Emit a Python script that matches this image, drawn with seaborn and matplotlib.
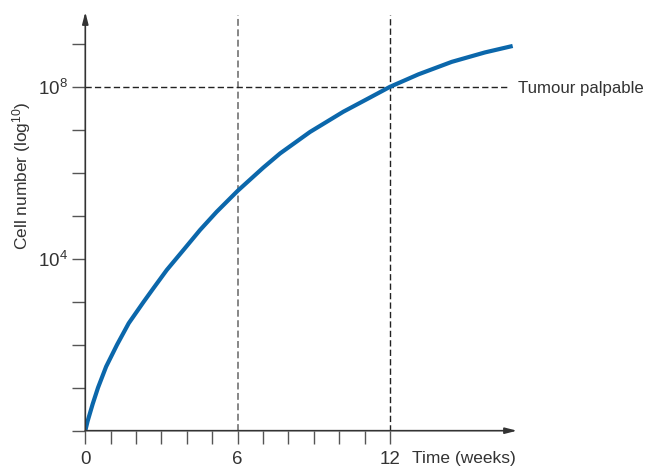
import matplotlib
matplotlib.use("Agg")
import matplotlib.pyplot as plt
import matplotlib.transforms as mtransforms
import seaborn as sns
import pandas as pd

# ---- data ----
weeks = [0, 0.09, 0.29, 0.50, 0.82, 1.25, 1.71, 2.30, 2.69, 3.21, 3.86, 4.52, 5.17, 6.0,
         7.01, 7.67, 8.85, 10.16, 11.21, 12.0, 13.12, 14.43, 15.74, 16.83]
log_cells = [0, 0.22, 0.62, 1.0, 1.49, 2.0, 2.50, 3.0, 3.32, 3.74, 4.20, 4.67, 5.09, 5.58,
             6.12, 6.45, 6.95, 7.42, 7.75, 8.0, 8.29, 8.58, 8.80, 8.95]
x_ticks = list(range(0, 13))
x_tick_labels = ["0", "", "", "", "", "", "6", "", "", "", "", "", "12"]
y_ticks = list(range(0, 10))
y_tick_labels = ["", "", "", "", "$10^4$", "", "", "", "$10^8$", ""]
marker_weeks = [6, 12]
palpable_level = 8

sns.set_style("white")
plt.rcParams["font.family"] = ["Liberation Sans", "DejaVu Sans"]
plt.rcParams["mathtext.fontset"] = "custom"
plt.rcParams["mathtext.rm"] = "Liberation Sans"
plt.rcParams["mathtext.it"] = "Liberation Sans"
plt.rcParams["mathtext.bf"] = "Liberation Sans"

FS = 12.5
txt = "#333333"
fig = plt.figure(figsize=(6.46, 4.70), dpi=100)
ax = fig.add_axes([85.3 / 646, 1 - 430.7 / 470, (517 - 85.3) / 646, (430.7 - 12) / 470])
ax.set_xlim(0, 17.0)
ax.set_ylim(0, 9.74)

df = pd.DataFrame({"week": weeks, "cells": log_cells})
sns.lineplot(data=df, x="week", y="cells", ax=ax, color="#0b67ab", lw=3.0,
             solid_capstyle="butt", solid_joinstyle="round", zorder=5)

dash = (0, (4.5, 2.3))
ax.vlines(marker_weeks[0], 0, 9.67, colors="#666666", lw=1.1, linestyles=[dash], zorder=3)
ax.vlines(marker_weeks[1], 0, 9.67, colors="#222222", lw=1.0, linestyles=[dash], zorder=3)
ax.hlines(palpable_level, 0, 16.73, colors="#222222", lw=1.0, linestyles=[dash], zorder=3)

for s in ax.spines.values():
    s.set_visible(False)

ax.set_xticks(x_ticks)
ax.set_xticklabels(x_tick_labels)
ax.set_yticks(y_ticks)
ax.set_yticklabels(y_tick_labels)
ax.tick_params(axis="both", which="major", bottom=True, left=True, direction="out",
               length=9.3, width=1.0, color="#555555", labelcolor=txt, labelsize=FS + 1)
ax.tick_params(axis="x", pad=5)
ax.tick_params(axis="y", pad=3)
ax.set_xlabel("")
ax.set_ylabel("")

arrow = dict(arrowstyle="-|>,head_length=0.7,head_width=0.18", color="#333333", lw=1.2,
             shrinkA=0, shrinkB=0)
ax.annotate("", xy=(1, 0), xytext=(0, 0), xycoords="axes fraction", arrowprops=arrow, zorder=6)
ax.annotate("", xy=(0, 1), xytext=(0, 0), xycoords="axes fraction", arrowprops=arrow, zorder=6)

ax.text(17.02, palpable_level - 0.04, "Tumour palpable", ha="left", va="center", fontsize=12.1,
        color=txt, clip_on=False)
trans = mtransforms.blended_transform_factory(ax.transData, fig.transFigure)
ax.text(16.95, 1 - 458 / 470, "Time (weeks)", ha="right", va="center", fontsize=FS,
        color=txt, transform=trans, clip_on=False)
fig.text(22 / 646, 1 - 176 / 470, "Cell number (log$^{10}$)", rotation=90, ha="center",
         va="center", fontsize=FS, color=txt)

fig.savefig("out.png", dpi=100)
